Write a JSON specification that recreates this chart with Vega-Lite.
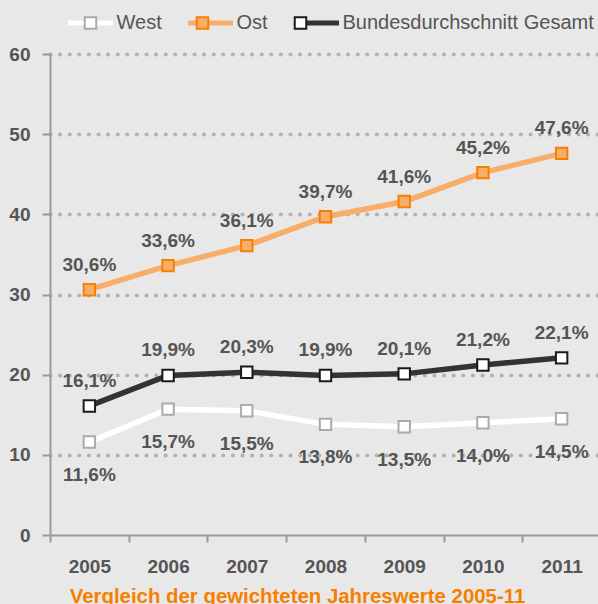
{
  "$schema": "https://vega.github.io/schema/vega-lite/v6.json",
  "width": 551,
  "height": 481,
  "autosize": {"type": "none"},
  "padding": {"left": 50, "top": 54, "right": 0, "bottom": 69},
  "background": "#e8e8e8",
  "config": {
    "view": {"stroke": null},
    "font": "Liberation Sans, Arial, sans-serif"
  },
  "data": {
    "values": [
      {"year": "2005", "series": "West", "value": 11.6, "label": "11,6%"},
      {"year": "2006", "series": "West", "value": 15.7, "label": "15,7%"},
      {"year": "2007", "series": "West", "value": 15.5, "label": "15,5%"},
      {"year": "2008", "series": "West", "value": 13.8, "label": "13,8%"},
      {"year": "2009", "series": "West", "value": 13.5, "label": "13,5%"},
      {"year": "2010", "series": "West", "value": 14.0, "label": "14,0%"},
      {"year": "2011", "series": "West", "value": 14.5, "label": "14,5%"},
      {"year": "2005", "series": "Ost", "value": 30.6, "label": "30,6%"},
      {"year": "2006", "series": "Ost", "value": 33.6, "label": "33,6%"},
      {"year": "2007", "series": "Ost", "value": 36.1, "label": "36,1%"},
      {"year": "2008", "series": "Ost", "value": 39.7, "label": "39,7%"},
      {"year": "2009", "series": "Ost", "value": 41.6, "label": "41,6%"},
      {"year": "2010", "series": "Ost", "value": 45.2, "label": "45,2%"},
      {"year": "2011", "series": "Ost", "value": 47.6, "label": "47,6%"},
      {"year": "2005", "series": "Bundesdurchschnitt Gesamt", "value": 16.1, "label": "16,1%"},
      {"year": "2006", "series": "Bundesdurchschnitt Gesamt", "value": 19.9, "label": "19,9%"},
      {"year": "2007", "series": "Bundesdurchschnitt Gesamt", "value": 20.3, "label": "20,3%"},
      {"year": "2008", "series": "Bundesdurchschnitt Gesamt", "value": 19.9, "label": "19,9%"},
      {"year": "2009", "series": "Bundesdurchschnitt Gesamt", "value": 20.1, "label": "20,1%"},
      {"year": "2010", "series": "Bundesdurchschnitt Gesamt", "value": 21.2, "label": "21,2%"},
      {"year": "2011", "series": "Bundesdurchschnitt Gesamt", "value": 22.1, "label": "22,1%"}
    ]
  },
  "encoding": {
    "x": {
      "field": "year",
      "type": "ordinal",
      "scale": {"type": "band", "paddingInner": 0, "paddingOuter": 0},
      "axis": {
        "labelAngle": 0,
        "tickBand": "extent",
        "domainColor": "#999999",
        "tickColor": "#999999",
        "domainWidth": 2,
        "tickWidth": 2,
        "tickSize": 7,
        "labelFontSize": 19,
        "labelFontWeight": "bold",
        "labelColor": "#555555",
        "labelPadding": 15,
        "grid": false,
        "title": "Vergleich der gewichteten  Jahreswerte 2005-11",
        "titleColor": "#f77f00",
        "titleFontSize": 20.4,
        "titleFontWeight": "bold",
        "titleX": 247,
        "titleY": 67,
        "titleBaseline": "alphabetic",
        "titleAlign": "center"
      }
    },
    "y": {
      "field": "value",
      "type": "quantitative",
      "scale": {"domain": [0, 60], "nice": false},
      "axis": {
        "values": [0, 10, 20, 30, 40, 50, 60],
        "grid": true,
        "gridDash": [0, 9.6],
        "gridCap": "round",
        "gridWidth": 4,
        "gridColor": "#b0b0b0",
        "gridOpacity": {"condition": {"test": "datum.value === 0", "value": 0}, "value": 1},
        "domainColor": "#999999",
        "domainWidth": 2,
        "tickColor": "#999999",
        "tickWidth": 2,
        "tickSize": 8,
        "labelFontSize": 19,
        "labelFontWeight": "bold",
        "labelColor": "#555555",
        "labelPadding": 12,
        "title": null
      }
    }
  },
  "layer": [
    {
      "mark": {"type": "line", "strokeWidth": 5.5},
      "encoding": {
        "color": {
          "field": "series",
          "type": "nominal",
          "sort": ["West", "Ost", "Bundesdurchschnitt Gesamt"],
          "scale": {"range": ["#ffffff", "#f8ae6a", "#333333"]},
          "legend": {
            "orient": "none",
            "legendX": 15.5,
            "legendY": -56,
            "direction": "horizontal",
            "title": null,
            "symbolType": "stroke",
            "symbolSize": 2025,
            "symbolStrokeWidth": 5,
            "labelFontSize": 20,
            "labelColor": "#555555",
            "labelOffset": 1,
            "columnPadding": 15,
            "labelLimit": 400,
            "padding": 0
          }
        }
      }
    },
    {
      "mark": {"type": "point", "shape": "square", "filled": true, "size": 130, "strokeWidth": 2, "opacity": 1},
      "encoding": {
        "fill": {
          "field": "series",
          "type": "nominal",
          "scale": {"domain": ["West", "Ost", "Bundesdurchschnitt Gesamt"], "range": ["#ffffff", "#f8ae6a", "#ffffff"]},
          "legend": {
            "orient": "none",
            "legendX": 15.5,
            "legendY": -56,
            "direction": "horizontal",
            "title": null,
            "symbolType": "M-0.24,-0.24H0.24V0.24H-0.24Z",
            "symbolSize": 2304,
            "symbolStrokeWidth": 2,
            "symbolOpacity": 1,
            "labelFontSize": 20,
            "labelColor": "transparent",
            "labelOffset": 1,
            "columnPadding": 15,
            "labelLimit": 400,
            "padding": 0
          }
        },
        "stroke": {
          "field": "series",
          "type": "nominal",
          "scale": {"domain": ["West", "Ost", "Bundesdurchschnitt Gesamt"], "range": ["#aaaaaa", "#f77f00", "#1a1a1a"]},
          "legend": {
            "orient": "none",
            "legendX": 15.5,
            "legendY": -56,
            "direction": "horizontal",
            "title": null,
            "symbolType": "M-0.24,-0.24H0.24V0.24H-0.24Z",
            "symbolSize": 2304,
            "symbolStrokeWidth": 2,
            "symbolOpacity": 1,
            "labelFontSize": 20,
            "labelColor": "transparent",
            "labelOffset": 1,
            "columnPadding": 15,
            "labelLimit": 400,
            "padding": 0
          }
        }
      }
    },
    {
      "transform": [{"filter": "datum.series !== 'West'"}],
      "mark": {"type": "text", "dy": -19, "baseline": "alphabetic", "fontSize": 19, "fontWeight": "bold", "fill": "#555555"},
      "encoding": {"text": {"field": "label"}}
    },
    {
      "transform": [{"filter": "datum.series === 'West'"}],
      "mark": {"type": "text", "dy": 39, "baseline": "alphabetic", "fontSize": 19, "fontWeight": "bold", "fill": "#555555"},
      "encoding": {"text": {"field": "label"}}
    }
  ]
}
